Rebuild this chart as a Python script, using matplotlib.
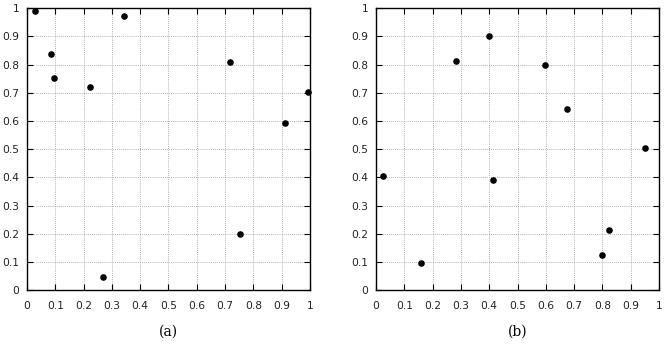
import matplotlib
matplotlib.use("Agg")
import matplotlib.pyplot as plt
import numpy as np

# point sets
xa = [0.028, 0.084, 0.095, 0.224, 0.269, 0.344, 0.718, 0.751, 0.912, 0.994]
ya = [0.991, 0.839, 0.754, 0.719, 0.048, 0.972, 0.811, 0.200, 0.592, 0.703]
xb = [0.024, 0.158, 0.281, 0.400, 0.412, 0.596, 0.674, 0.799, 0.824, 0.950]
yb = [0.405, 0.095, 0.813, 0.900, 0.391, 0.797, 0.641, 0.124, 0.212, 0.505]

ticks = np.round(np.arange(0, 1.01, 0.1), 1)
tick_labels = ["0"] + [f"{t:.1f}" for t in ticks[1:-1]] + ["1"]
captions = ["(a)", "(b)"]

fig = plt.figure(figsize=(6.66, 3.45), dpi=100)
axes = [fig.add_axes([0.0405, 0.159, 0.425, 0.817]),
        fig.add_axes([0.5646, 0.159, 0.425, 0.817])]

for ax, x, y, cap in zip(axes, [xa, xb], [ya, yb], captions):
    ax.scatter(x, y, s=14, color="black", zorder=3, clip_on=False)
    ax.set_xlim(0, 1)
    ax.set_ylim(0, 1)
    ax.set_xticks(ticks)
    ax.set_yticks(ticks)
    ax.set_xticklabels(tick_labels)
    ax.set_yticklabels(tick_labels)
    ax.tick_params(direction="in", length=4.5, width=0.8, top=True, right=True,
                   labelsize=7.7, colors="black", labelcolor="#222222")
    ax.tick_params(axis="x", pad=7.5)
    ax.tick_params(axis="y", pad=5.5)
    ax.grid(True, linestyle=(0, (1, 1.5)), color="#999999", linewidth=0.6)
    ax.set_axisbelow(True)
    for sp in ax.spines.values():
        sp.set_linewidth(1.0)
    bb = ax.get_position()
    fig.text((bb.x0 + bb.x1) / 2, 0.038, cap, ha="center", va="center",
             fontsize=10, family="DejaVu Serif")

fig.savefig("out.png", dpi=100)
